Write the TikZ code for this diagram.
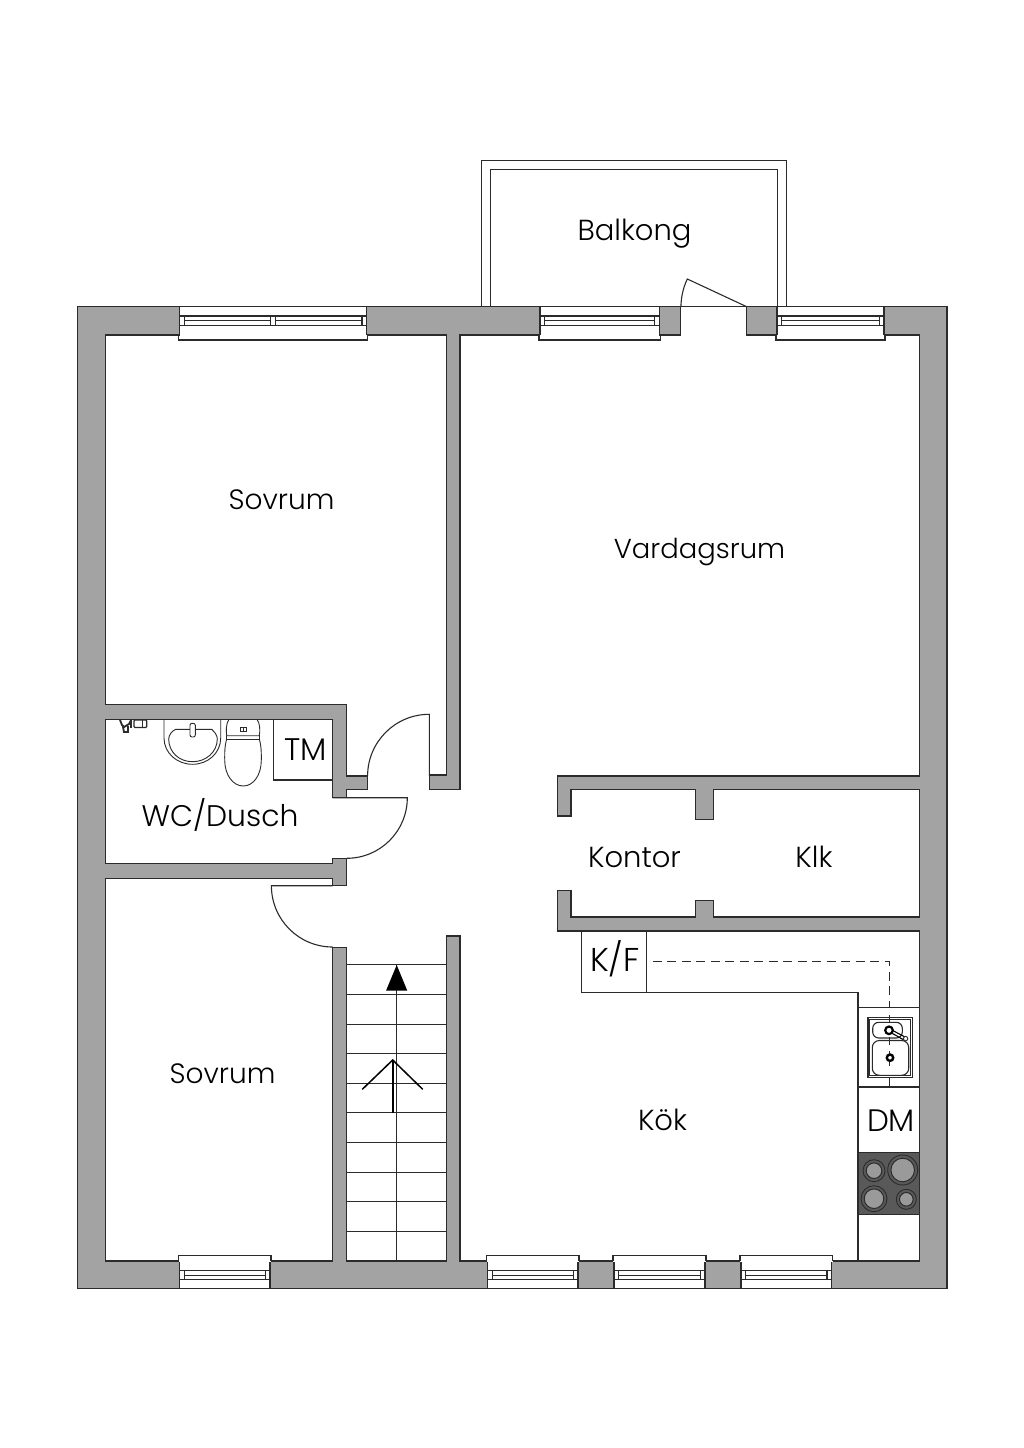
\documentclass[tikz,border=0pt]{standalone}
\usepackage{fontspec}
\setmainfont{Poppins Light}
\definecolor{wallgrey}{HTML}{A3A3A3}
\definecolor{ink}{HTML}{2B2B2B}
\definecolor{stovegrey}{HTML}{595959}
\definecolor{burnergrey}{HTML}{9A9A9A}
\tikzset{
  wall/.style={draw=ink,line width=1.3pt,fill=wallgrey},
  thin line/.style={draw=ink,line width=1.1pt},
  fine/.style={draw=ink,line width=.9pt},
  label/.style={inner sep=0pt,anchor=base,text=black},
  burner/.style={draw=ink,line width=1pt,fill=burnergrey}
}
\newcommand{\fs}[1]{\fontsize{#1}{#1}\selectfont}
\newcommand{\wintop}[2]{%
  \path[fill=white] (#1,306.7) rectangle (#2,335.5);
  \draw[thin line] (#1,306.7) -- (#2,306.7);
  \draw[thin line] (#1,306.7) -- (#1,335) (#2,306.7) -- (#2,335);
  \draw[thin line] ($(#1,335)+(-1,0)$) -- ++(0,5) -- ($(#2,340)+(1,0)$) -- ++(0,-5);
  \draw[thin line,fill=white] (#1,316) rectangle (#2,325.5);
  \draw[thin line] ($(#1,316)+(4.7,0)$) -- ++(0,9.5) ($(#2,316)+(-4.7,0)$) -- ++(0,9.5);
  \draw[draw=ink,line width=1.4pt] ($(#1,320.7)+(4.7,0)$) -- ($(#2,320.7)+(-4.7,0)$);
}
\newcommand{\winbot}[2]{%
  \path[fill=white] (#1,1261.5) rectangle (#2,1288);
  \draw[thin line] (#1,1261) -- (#1,1288.7) (#2,1261) -- (#2,1288.7);
  \draw[thin line] (#1,1288.7) -- (#2,1288.7);
  \path[fill=white] ($(#1,1255.7)+(-1,0)$) rectangle ($(#2,1261.5)+(1,0)$);
  \draw[thin line] ($(#1,1261)+(-1,0)$) -- ++(0,-5.3) -- ($(#2,1255.7)+(1,0)$) -- ++(0,5.3);
  \draw[thin line,fill=white] (#1,1270.7) rectangle (#2,1279.7);
  \draw[thin line] ($(#1,1270.7)+(4.7,0)$) -- ++(0,9) ($(#2,1270.7)+(-4.7,0)$) -- ++(0,9);
  \draw[draw=ink,line width=1.4pt] ($(#1,1275.2)+(4.7,0)$) -- ($(#2,1275.2)+(-4.7,0)$);
}
\usetikzlibrary{calc}
\begin{document}
\begin{tikzpicture}[x=1pt,y=-1pt]
\useasboundingbox[fill=white] (0,0) rectangle (1024,1448);
% balcony
\draw[thin line] (481.3,306.7) -- (481.3,160.5) -- (786.3,160.5) -- (786.3,306.7);
\draw[thin line] (490.3,306.7) -- (490.3,169.5) -- (777.3,169.5) -- (777.3,306.7);
% walls
\draw[wall] (77.7,306.7) rectangle (947,1288.7);
\draw[draw=ink,line width=1.3pt,fill=white]
 (680.7,306.7) -- (746.7,306.7) -- (746.7,335) -- (919.3,335) -- (919.3,776) -- (557.3,776)
 -- (557.3,816) -- (571,816) -- (571,789.3) -- (695.3,789.3) -- (695.3,819.3) -- (713.7,819.3)
 -- (713.7,789.3) -- (919.3,789.3) -- (919.3,917) -- (713.7,917) -- (713.7,900.7) -- (695.3,900.7)
 -- (695.3,917) -- (571,917) -- (571,890.7) -- (557.3,890.7) -- (557.3,931) -- (919.3,931)
 -- (919.3,1261) -- (460,1261) -- (460,936) -- (446.3,936) -- (446.3,1261) -- (346.7,1261)
 -- (346.7,947.3) -- (332.7,947.3) -- (332.7,1261) -- (105.7,1261) -- (105.7,878.7) -- (332.7,878.7)
 -- (332.7,885.7) -- (346.7,885.7) -- (346.7,858.3) -- (332.7,858.3) -- (332.7,863.7) -- (105.7,863.7)
 -- (105.7,719.3) -- (332.7,719.3) -- (332.7,797.7) -- (346.7,797.7) -- (346.7,789.3) -- (367.3,789.3)
 -- (367.3,776) -- (346.7,776) -- (346.7,704.7) -- (105.7,704.7) -- (105.7,335) -- (446.3,335)
 -- (446.3,775) -- (429.5,775) -- (429.5,789.5) -- (460,789.5) -- (460,335) -- (680.7,335) -- cycle;
% windows
\wintop{179.5}{366.7}
\draw[thin line] (270.7,316) -- (270.7,325.5) (275.3,316) -- (275.3,325.5);
\path[fill=white] (271.3,317) rectangle (274.7,324.9);
\wintop{540}{659.3}
\wintop{777}{884}
\winbot{179.7}{270}
\winbot{487.7}{578}
\winbot{614}{705}
\winbot{741}{831.7}
% doors
\draw[thin line] (332.7,797.7) -- (407.3,797.7) .. controls (407.3,831.2) and (380.2,858.3) .. (346.7,858.3);
\draw[thin line] (429.3,776) -- (429.3,714.3) .. controls (395.2,714.3) and (367.6,741.9) .. (367.6,776);
\draw[thin line] (332.7,885.7) -- (271.4,885.7) .. controls (271.4,919.6) and (298.8,947) .. (332.7,947);
\draw[thin line] (746.7,306.7) -- (687.3,279) .. controls (683,288) and (681.2,297) .. (680.9,306.7);
% stairs
\foreach \sy in {964.5,994.5,1024.5,1053.5,1083.5,1112.5,1142.5,1172.5,1201.5,1231.5}
  \draw[thin line] (346.7,\sy) -- (446.3,\sy);
\draw[thin line] (396.7,965) -- (396.7,1261);
\fill[black] (396.7,965) -- (407.3,990.7) -- (386,990.7) -- cycle;
\draw[black,line width=1.7pt] (392.7,1112.7) -- (392.7,1060);
\draw[black,line width=1.5pt] (362.3,1089.3) -- (392.7,1060) -- (422.7,1089.3);
% kitchen fittings
\draw[thin line] (581.3,931) -- (581.3,992.3) -- (858,992.3) -- (858,1261);
\draw[thin line] (646.3,931) -- (646.3,992.3);
\draw[fine,dash pattern=on 9pt off 5.5pt] (652.7,961.7) -- (889,961.7) -- (889,1007);
\draw[thin line] (858,1007.7) -- (919.3,1007.7);
\draw[thin line] (858,1087) -- (919.3,1087);
\draw[thin line] (858,1152.3) -- (919.3,1152.3);
% sink
\draw[thin line,fill=white] (868,1017.3) rectangle (912.7,1077.7);
\draw[fine] (869.9,1019.2) rectangle (910.8,1075.8);
\draw[thin line,rounded corners=6pt] (872.7,1022.3) rectangle (902.3,1038);
\draw[thin line,rounded corners=7pt] (872.3,1040.5) rectangle (908.7,1075.3);
\draw[fine] (889,1015) -- (889,1023) (889,1037) -- (889,1045) (889.5,1051) -- (889.5,1066) (889,1077.7) -- (889,1087);
\draw[black,line width=1.1pt] (889,1028.5) -- (905,1037) (889,1031.5) -- (904,1040);
\draw[fine,fill=white] (905.6,1038.6) circle[radius=2.2];
\draw[black,line width=2.2pt,fill=white] (889,1030.3) circle[radius=3.8];
\draw[black,line width=2.4pt,fill=white] (890,1057.7) circle[radius=3.2];
% stove
\draw[fine,fill=stovegrey] (858,1152.3) rectangle (919.3,1214);
\foreach \bx/\by/\br in {874/1170.7/11,902.7/1170/15,874/1198.7/13,906.3/1199.3/10}{
  \draw[ink,line width=.9pt] (\bx,\by) circle[radius=\br];
  \draw[burner] (\bx,\by) circle[radius=\br-3.2];
}
% TM box
\draw[thin line] (273.3,719.3) -- (273.3,780) -- (332.7,780);
% washbasin
\draw[fine] (164,719.3) -- (164,738) .. controls (164,753) and (177,764.3) .. (192.5,764.3)
  .. controls (208,764.3) and (220.7,753) .. (220.7,738) -- (220.7,719.3);
\draw[fine] (175.7,729.3) -- (211.7,729.3) .. controls (214.5,732) and (217.3,735) .. (217.3,739)
  .. controls (217.3,752) and (206,761.7) .. (192.5,761.7) .. controls (179,761.7) and (168.7,752) .. (168.7,739)
  .. controls (168.7,735) and (172,731) .. (175.7,729.3);
\draw[fine,rounded corners=2pt,fill=white] (190,723.3) rectangle (195.3,737);
% toilet
\draw[fine] (229,719.3) .. controls (226,723) and (226,731) .. (226.7,735.7)
  -- (259.3,735.7) .. controls (260.3,731) and (260,723) .. (257,719.3);
\draw[fine] (226.7,735.7) -- (226.7,739) -- (259.3,739) -- (259.3,735.7);
\draw[fine] (226.7,739) .. controls (224.5,747) and (224.7,752) .. (224.7,760)
  .. controls (224.7,775) and (233,786) .. (243.3,786) .. controls (253.5,786) and (261.3,775) .. (261.3,760)
  .. controls (261.3,752) and (261.5,747) .. (259.3,739);
\draw[fine] (240,727.3) rectangle (246.7,731);
\draw[fine] (243.3,727.3) -- (243.3,731);
% wall tap
\draw[ink,line width=1.2pt,fill=white,rounded corners=1pt] (134,720) -- (146.7,720) -- (146.7,727.5) -- (134,727.5) -- cycle;
\draw[ink,line width=1.8pt] (120,720) -- (122,725) -- (124,727) -- (129,724) -- (131,720);
\draw[ink,line width=1.8pt] (123,727) -- (124,732) -- (128,732) -- (128,726);
\draw[ink,line width=1.2pt] (131,720) -- (131,728) (142.5,720) -- (142.5,727.5);
% labels
\node[label,font=\fs{29}] (balkong) at (634.5,240.7) {Balkong};
\node[label,font=\fs{28}] (sovrum1) at (281.5,509) {Sovrum};
\node[label,font=\fs{27.4}] (vardagsrum) at (699.5,558.5) {Vardagsrum};
\node[label,font=\fs{29.8}] (wc) at (220,826.7) {WC/Dusch};
\node[label,font=\fs{31.2}] (tm) at (305.5,760) {TM};
\node[label,font=\fs{29}] (kontor) at (634.5,867.3) {Kontor};
\node[label,font=\fs{29}] (klk) at (814,867.3) {Klk};
\node[label,font=\fs{33}] (kf) at (615,971.7) {K/F};
\node[label,font=\fs{29}] (kok) at (662.5,1130) {Kök};
\node[label,font=\fs{31}] (dm) at (891,1131.7) {DM};
\node[label,font=\fs{28}] (sovrum2) at (222.5,1083) {Sovrum};
\end{tikzpicture}
\end{document}
